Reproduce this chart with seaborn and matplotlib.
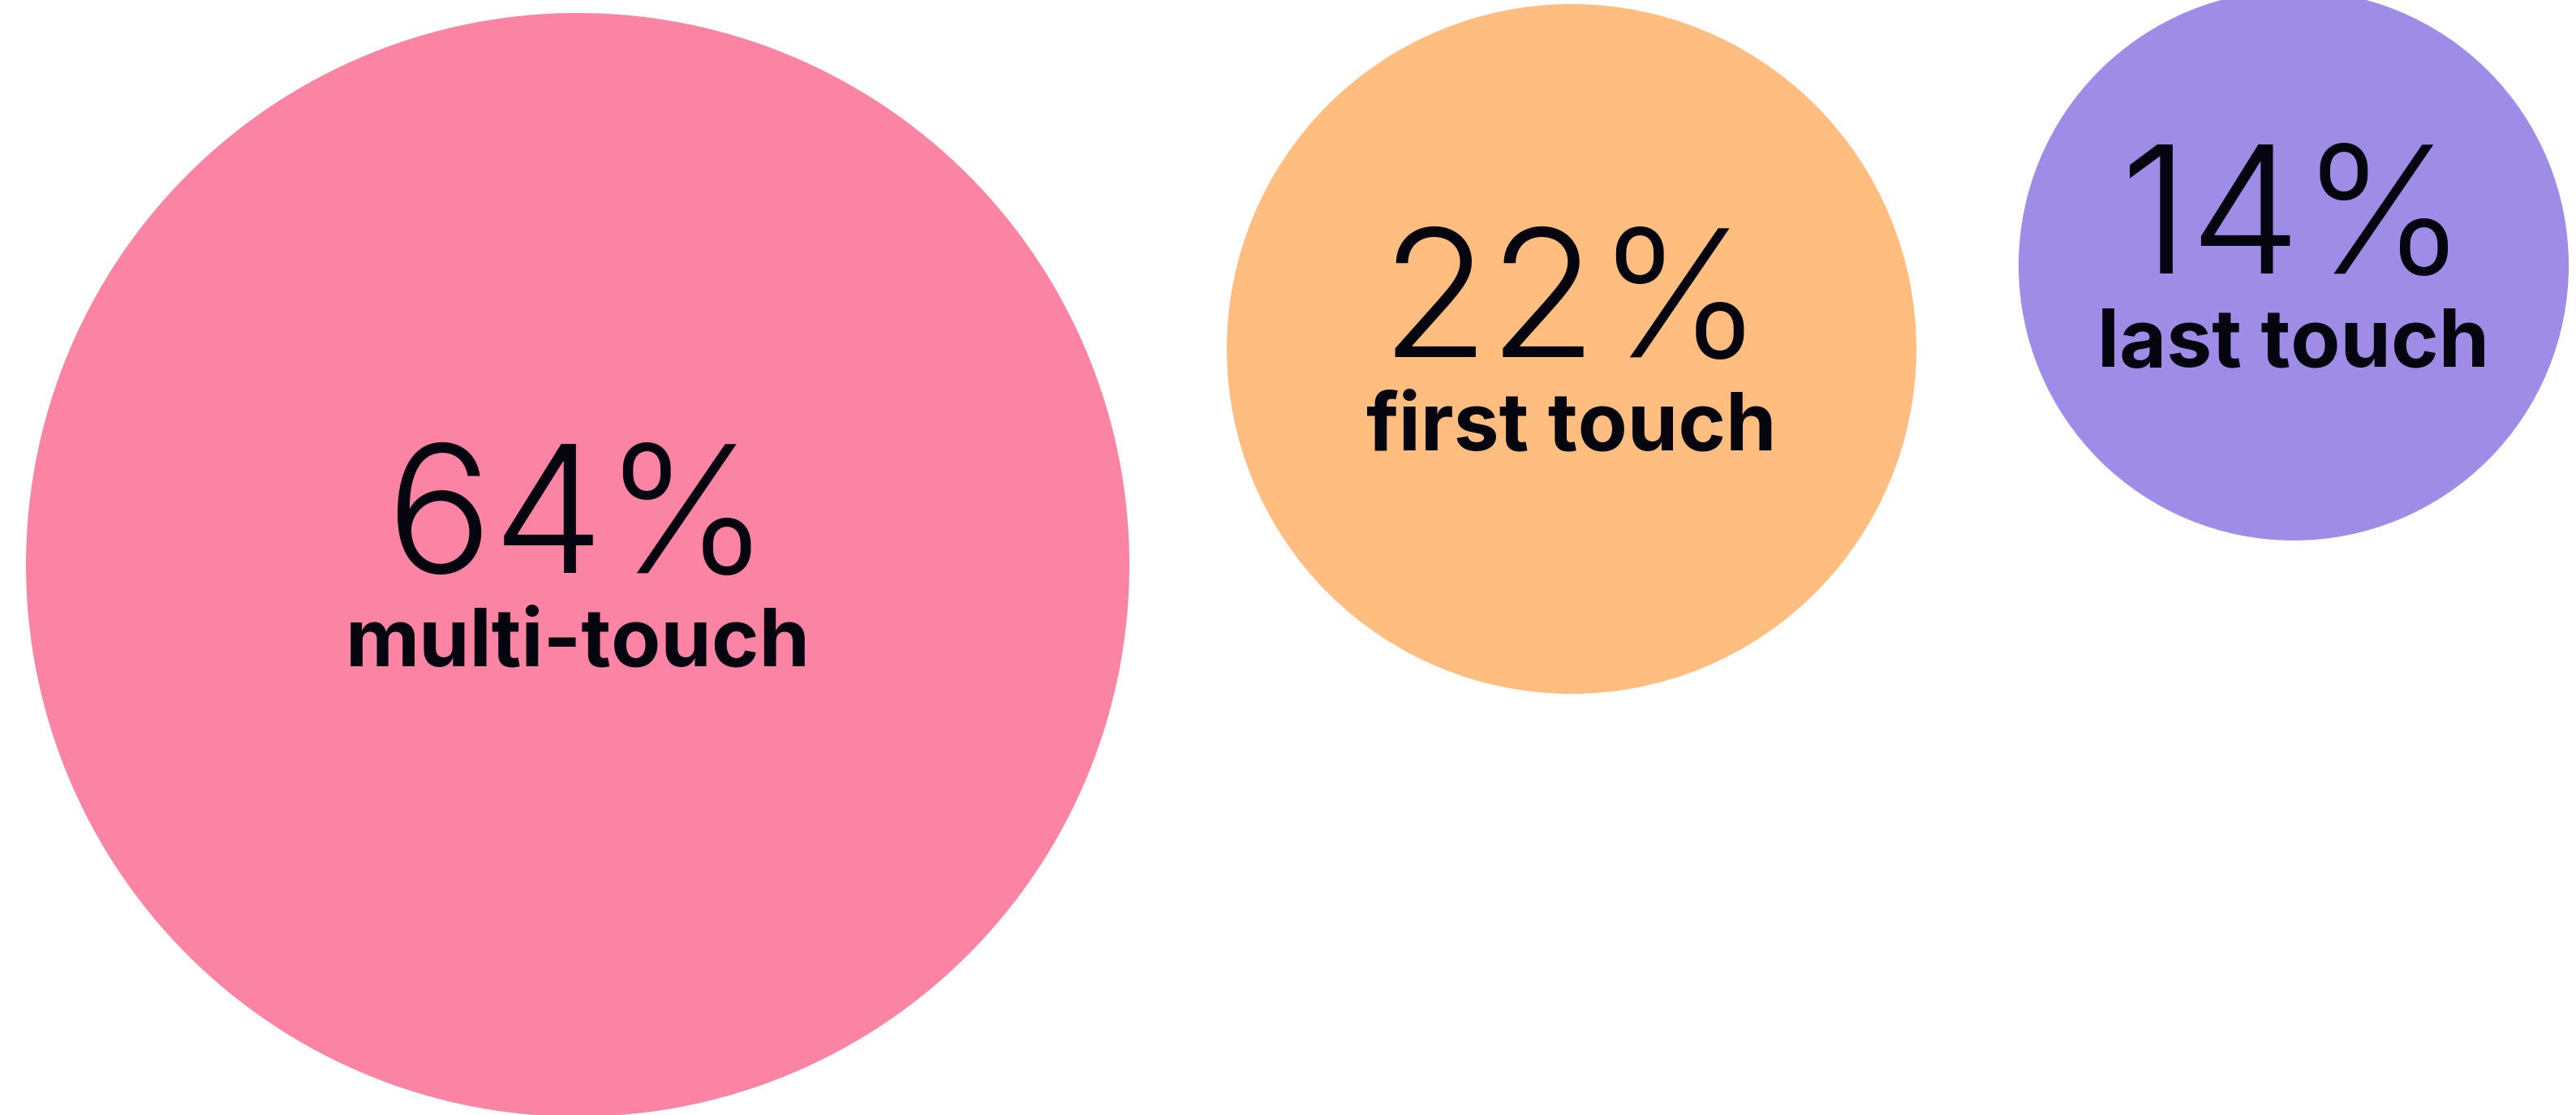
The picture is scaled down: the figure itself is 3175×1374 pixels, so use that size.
import numpy as np
import pandas as pd
import matplotlib
matplotlib.use("Agg")
import matplotlib.pyplot as plt
import seaborn as sns

# Attribution model share
labels = ["multi-touch", "first touch", "last touch"]
shares = [64, 22, 14]
colors = ["#FB84A5", "#FFBD80", "#9F8CE6"]

# Bubble layout (canvas pixels)
center_x = [712, 1937, 2827]
center_y = [696, 430, 327]
AREA_PER_POINT = 8210.0   # px^2 of bubble area per percentage point
MAX_RADIUS = 680.0        # largest bubble is capped to stay on the canvas

W, H, DPI = 3175, 1374, 100

sns.set_theme(style="white")
plt.rcParams["font.family"] = ["Inter", "DejaVu Sans"]

df = pd.DataFrame({"label": labels, "share": shares, "x": center_x, "y": center_y})

px_to_pt = 72.0 / DPI
radius = {v: min(np.sqrt(AREA_PER_POINT * v), MAX_RADIUS) for v in shares}
marker_sizes = {v: (2 * r * px_to_pt) ** 2 for v, r in radius.items()}

fig = plt.figure(figsize=(W / DPI, H / DPI), dpi=DPI)
fig.patch.set_facecolor("white")
ax = fig.add_axes([0, 0, 1, 1])

sns.scatterplot(
    data=df, x="x", y="y",
    hue="label", palette=dict(zip(labels, colors)),
    size="share", sizes=marker_sizes,
    linewidth=0, alpha=1, legend=False, ax=ax,
)

text_color = "#05050F"
for _, row in df.iterrows():
    ax.text(row.x, row.y + 10, f"{row.share}%", ha="center", va="baseline",
            fontsize=157, fontweight=300, color=text_color)
    ax.text(row.x, row.y + 125, row.label, ha="center", va="baseline",
            fontsize=72, fontweight="bold", color=text_color)

ax.set_xlim(0, W)
ax.set_ylim(H, 0)
ax.set_axis_off()

fig.savefig("out.png", dpi=DPI, facecolor="white")
